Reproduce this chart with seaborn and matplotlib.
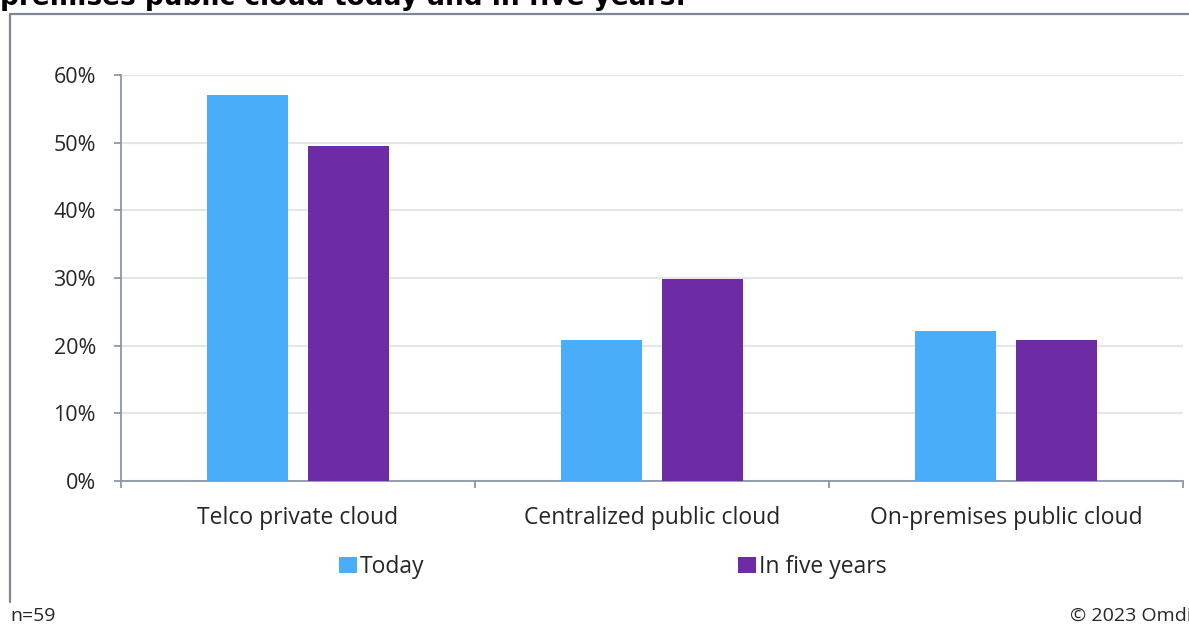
import matplotlib
matplotlib.use("Agg")
import matplotlib.pyplot as plt
from matplotlib.lines import Line2D
import seaborn as sns
import pandas as pd

# ---- data ----
categories = ["Telco private cloud", "Centralized public cloud", "On-premises public cloud"]
series_names = ["Today", "In five years"]
today = [57.0, 20.8, 22.2]
in_five_years = [49.5, 29.8, 20.8]
yticks = [0, 10, 20, 30, 40, 50, 60]
ytick_labels = ["0%", "10%", "20%", "30%", "40%", "50%", "60%"]
title_text = "premises public cloud today and in five years:"
note_text = "n=59"
source_text = "© 2023 Omdia"

df = pd.DataFrame({
    "category": categories * 2,
    "series": [series_names[0]] * len(categories) + [series_names[1]] * len(categories),
    "value": today + in_five_years,
})

BLUE = "#4AADF9"
PURPLE = "#6D2CA6"
SPINE = "#8C97A6"
TEXT = "#262626"
FS = 16.5
FS_Y = 15.5

sns.set_theme(style="white")
plt.rcParams["font.family"] = ["Open Sans", "DejaVu Sans"]

W, H = 1189, 625
fig = plt.figure(figsize=(W / 100, H / 100), dpi=100)
ax = fig.add_axes([121 / W, 1 - 481 / H, (1183 - 121) / W, (481 - 75) / H])

sns.barplot(data=df, x="category", y="value", hue="series",
            palette=[BLUE, PURPLE], width=0.57, gap=0.19, saturation=1,
            errorbar=None, ax=ax, zorder=3, linewidth=0)

ax.set_xlim(-0.5, 2.5)
ax.set_ylim(0, 60)
ax.set_yticks(yticks)
ax.set_yticklabels(ytick_labels)
ax.set_xlabel("")
ax.set_ylabel("")
ax.set_axisbelow(True)
ax.yaxis.grid(True, color="#E6E6E6", linewidth=1.6)
ax.xaxis.grid(False)

for s in ["top", "right"]:
    ax.spines[s].set_visible(False)
for s in ["left", "bottom"]:
    ax.spines[s].set_color(SPINE)
    ax.spines[s].set_linewidth(1.3)

ax.tick_params(axis="y", length=5, width=1.3, color=SPINE, pad=13,
               labelsize=FS_Y, labelcolor=TEXT, left=True, direction="out")
ax.tick_params(axis="x", which="major", length=0, pad=18, labelsize=FS, labelcolor=TEXT)
ax.set_xticks([-0.5, 0.5, 1.5, 2.5], minor=True)
ax.tick_params(axis="x", which="minor", length=5, width=1.3, color=SPINE,
               direction="out", bottom=True)

sns.move_legend(ax, loc="center", bbox_to_anchor=(613 / W, 1 - 567 / H),
                bbox_transform=fig.transFigure, ncol=2, frameon=False, title=None,
                fontsize=FS, handlelength=0.75, handleheight=0.75,
                handletextpad=0.15, columnspacing=13.7, labelcolor=TEXT)

# frame lines
fig.add_artist(Line2D([9.5 / W, 9.5 / W], [1 - 13.5 / H, 1 - 602 / H],
                      transform=fig.transFigure, color="#7F8796", linewidth=1.6))
fig.add_artist(Line2D([9.5 / W, 1.0], [1 - 13.5 / H, 1 - 13.5 / H],
                      transform=fig.transFigure, color="#7F8796", linewidth=1.6))

# title (cut off at top in the reference)
fig.text(0 / W, 1 - 5 / H, title_text, ha="left", va="baseline",
         fontsize=19, fontweight="bold", color="black", family="DejaVu Sans")
fig.text(10 / W, 1 - 621 / H, note_text, ha="left", va="baseline",
         fontsize=14, color=TEXT)
fig.text(1070 / W, 1 - 621 / H, source_text, ha="left", va="baseline",
         fontsize=14, color=TEXT)

fig.savefig("out.png", dpi=100)
